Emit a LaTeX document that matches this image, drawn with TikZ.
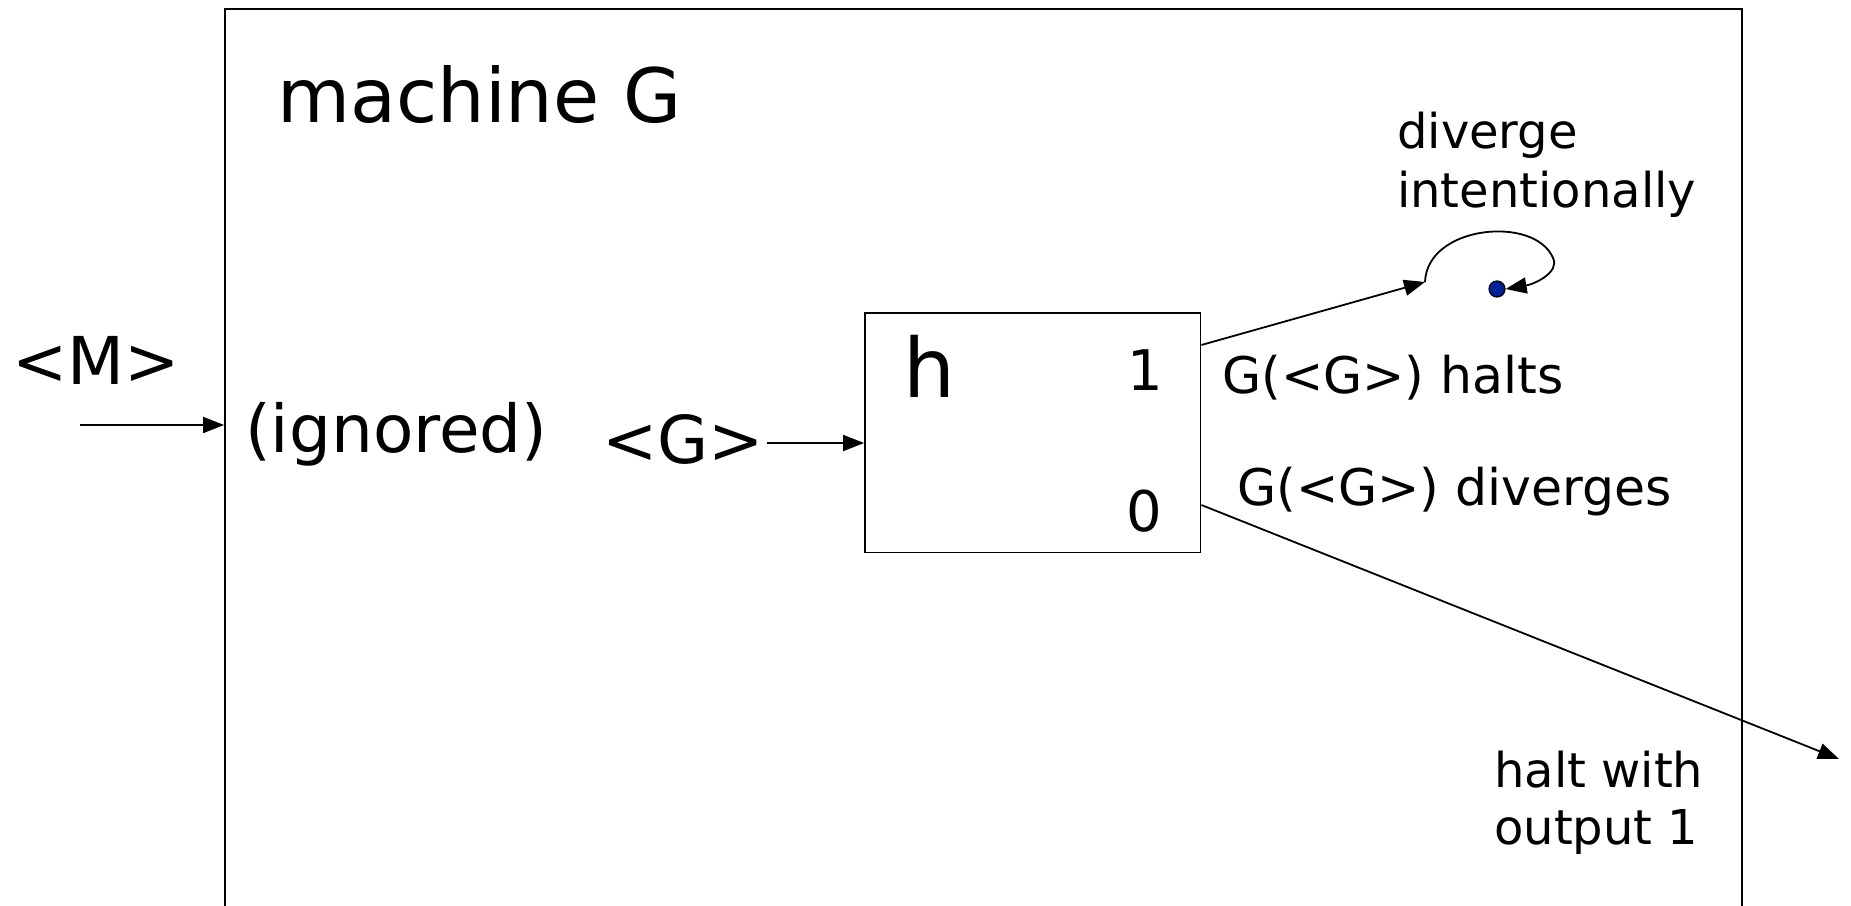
\documentclass[tikz,border=0pt]{standalone}
\usepackage{fontspec}
\setmainfont{DejaVu Sans}
\usetikzlibrary{arrows.meta}
\definecolor{dotblue}{RGB}{0,32,150}
\begin{document}
\begin{tikzpicture}[x=1pt,y=-1pt,
  txt/.style={anchor=base west,inner sep=0pt},
  small/.style={txt,font=\fontsize{48}{58}\selectfont},
  cond/.style={txt,font=\fontsize{50.5}{60}\selectfont},
  mid/.style={txt,font=\fontsize{66}{78}\selectfont},
  big/.style={txt,font=\fontsize{82}{96}\selectfont},
  title/.style={txt,font=\fontsize{75}{90}\selectfont},
  port/.style={anchor=base,inner sep=0pt,font=\fontsize{56}{66}\selectfont},
  conn/.style={line width=1.8pt,-{Triangle[length=21pt,width=16pt]}},
  plain/.style={line width=1.8pt}]
\useasboundingbox (0,0) rectangle (1851,905);
\clip (0,0) rectangle (1851,905);
\fill[white] (0,0) rectangle (1851,905);
% outer machine box
\node[draw,line width=1.8pt,minimum width=1517pt,minimum height=941pt,inner sep=0pt] (outer) at (983.5,479.5) {};
\node[title] (title) at (277,122) {machine G};
% h box
\node[draw,line width=1.8pt,minimum width=335.5pt,minimum height=239.5pt,inner sep=0pt] (hbox) at (1032.75,432.75) {};
\node[big] (hlab) at (903,397) {h};
\node[port] (one) at (1145,390) {1};
\node[port] (zero) at (1144,531) {0};
% inputs
\node[mid] (M) at (12,384) {<M>};
\coordinate (Mstart) at (80,425);
\coordinate (Mend) at (outer.west |- Mstart);
\draw[conn] (Mstart) -- (Mend);
\node[mid] (ign) at (245,452) {(ignored)};
\node[mid] (G) at (602,463) {<G>};
\coordinate (Gstart) at (767,443);
\coordinate (Gend) at (hbox.west |- Gstart);
\draw[conn] (Gstart) -- (Gend);
% outputs
\coordinate (o1) at (hbox.east |- 0,345);
\coordinate (o1end) at (1425,282);
\draw[conn] (o1) -- (o1end);
\node[circle,draw,fill=dotblue,line width=1.2pt,minimum size=16pt,inner sep=0pt] (dot) at (1497,289) {};
\draw[conn] (o1end) .. controls (1427,225) and (1535,215) .. (1553,258)
  .. controls (1560,272) and (1535,284) .. (dot.east);
\node[cond] (halts) at (1222,393) {G(<G>) halts};
\node[cond] (divs) at (1237,505) {G(<G>) diverges};
\node[small] (dv1) at (1397,148) {diverge};
\node[small] (dv2) at (1397,207) {intentionally};
\coordinate (o0) at (hbox.east |- 0,505);
\coordinate (o0end) at (1839,759);
\draw[conn] (o0) -- (o0end);
\node[small] (hw1) at (1494,787) {halt with};
\node[small] (hw2) at (1494,844) {output 1};
\end{tikzpicture}
\end{document}
